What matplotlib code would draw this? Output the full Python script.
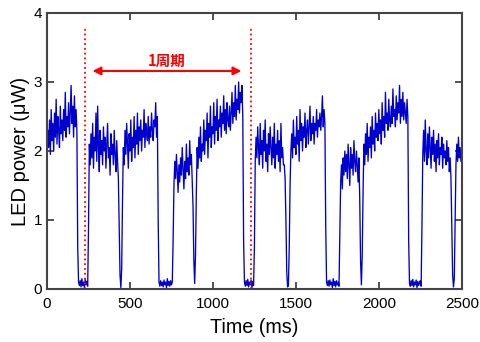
import numpy as np
import matplotlib
matplotlib.use('Agg')
import matplotlib.pyplot as plt

plt.rcParams['font.family'] = ['Liberation Sans', 'Noto Sans CJK JP', 'DejaVu Sans']

step_ms = 5
power_uw = [
    1.85, 2.30, 2.05, 2.45, 1.95, 2.60, 2.15, 2.40, 2.00, 2.55,
    2.20, 2.75, 2.10, 2.50, 2.30, 2.05, 2.65, 2.25, 2.45, 2.15,
    2.60, 2.30, 2.85, 2.20, 2.50, 2.35, 2.70, 2.25, 2.55, 2.95,
    2.40, 2.65, 2.20, 2.80, 2.35, 2.60, 2.30, 0.60, 0.10, 0.05,
    0.12, 0.03, 0.15, 0.05, 0.10, 0.02, 0.14, 0.06, 0.11, 0.04,
    0.90, 2.10, 1.80, 2.25, 1.90, 2.40, 1.75, 2.20, 2.00, 2.55,
    1.85, 2.65, 2.05, 1.70, 2.30, 1.95, 2.15, 1.80, 2.35, 2.00,
    2.20, 1.75, 2.10, 2.40, 1.90, 2.05, 1.65, 2.25, 1.95, 2.10,
    1.80, 2.30, 1.95, 1.70, 2.15, 1.85, 1.60, 0.90, 0.20, 0.02,
    0.30, 1.30, 2.05, 1.80, 2.30, 1.95, 2.40, 2.10, 1.75, 2.25,
    2.00, 2.45, 1.85, 2.20, 2.05, 2.50, 1.90, 2.30, 2.10, 2.55,
    1.95, 2.35, 2.15, 2.45, 2.00, 2.30, 2.20, 2.60, 2.05, 2.40,
    2.25, 2.15, 2.50, 2.10, 2.35, 2.20, 2.55, 2.30, 2.15, 2.45,
    2.35, 2.70, 2.20, 2.50, 1.00, 0.10, 0.04, 0.12, 0.05, 0.10,
    0.03, 0.13, 0.06, 0.10, 0.02, 0.15, 0.05, 0.11, 0.04, 0.12,
    0.06, 0.10, 0.70, 1.50, 1.85, 1.60, 1.95, 1.70, 1.40, 1.80,
    1.55, 1.90, 1.65, 2.05, 1.75, 1.45, 1.85, 1.60, 2.10, 1.70,
    1.90, 1.65, 2.15, 1.80, 1.95, 1.55, 1.20, 0.40, 0.08, 0.50,
    1.40, 2.05, 1.75, 2.20, 1.90, 2.35, 1.85, 2.10, 2.00, 2.45,
    1.95, 2.30, 2.15, 2.55, 1.90, 2.40, 2.20, 2.65, 2.05, 2.35,
    2.25, 2.70, 2.10, 2.50, 2.30, 2.75, 2.15, 2.45, 2.35, 2.65,
    2.20, 2.55, 2.40, 2.80, 2.30, 2.60, 2.25, 2.70, 2.45, 2.35,
    2.65, 2.30, 2.55, 2.85, 2.40, 2.70, 2.50, 2.95, 2.45, 2.75,
    2.60, 3.00, 2.55, 2.85, 2.70, 2.95, 2.50, 0.70, 0.10, 0.04,
    0.12, 0.05, 0.14, 0.03, 0.10, 0.06, 0.13, 0.02, 0.11, 0.05,
    0.60, 1.85, 2.20, 1.90, 2.35, 2.05, 1.80, 2.40, 1.95, 2.15,
    1.75, 2.30, 2.00, 2.45, 1.85, 2.10, 1.70, 2.25, 1.95, 2.35,
    2.05, 1.80, 2.20, 1.90, 2.40, 1.75, 2.10, 1.95, 2.30, 1.85,
    2.15, 1.70, 2.40, 1.90, 2.05, 1.80, 1.80, 1.60, 1.00, 0.25,
    0.03, 0.05, 0.60, 1.50, 2.00, 2.25, 1.90, 2.45, 2.05, 2.20,
    1.95, 2.50, 2.10, 2.30, 1.85, 2.60, 2.15, 2.40, 2.00, 2.35,
    2.20, 2.55, 2.05, 2.30, 2.45, 2.10, 2.35, 2.65, 2.15, 2.40,
    2.25, 2.50, 2.10, 2.40, 2.30, 2.60, 2.20, 2.45, 2.35, 2.55,
    2.30, 2.50, 2.80, 2.35, 2.60, 2.40, 0.90, 0.10, 0.05, 0.12,
    0.04, 0.13, 0.06, 0.10, 0.02, 0.15, 0.05, 0.11, 0.03, 0.12,
    0.06, 0.10, 0.04, 0.80, 1.55, 1.80, 1.45, 1.90, 1.65, 2.00,
    1.70, 1.95, 1.60, 2.10, 1.80, 1.50, 2.05, 1.75, 1.95, 1.65,
    2.15, 1.85, 1.70, 2.00, 1.80, 1.55, 1.90, 1.30, 0.40, 0.06,
    0.50, 1.40, 2.10, 1.80, 2.25, 1.95, 2.40, 1.85, 2.20, 2.05,
    2.35, 1.90, 2.50, 2.10, 2.30, 2.00, 2.55, 2.20, 2.40, 2.15,
    2.60, 2.25, 2.45, 2.10, 2.70, 2.30, 2.50, 2.20, 2.85, 2.40,
    2.55, 2.30, 2.75, 2.45, 2.35, 2.65, 2.40, 2.90, 2.50, 2.60,
    2.35, 2.80, 2.45, 2.70, 2.55, 2.95, 2.40, 2.75, 2.50, 2.85,
    2.45, 2.70, 2.55, 2.40, 2.75, 2.50, 0.70, 0.08, 0.04, 0.12,
    0.05, 0.14, 0.03, 0.10, 0.06, 0.13, 0.02, 0.11, 0.05, 0.09,
    0.12, 0.04, 0.90, 1.95, 2.30, 1.85, 2.45, 2.00, 1.80, 2.25,
    1.90, 2.35, 2.05, 1.75, 2.20, 1.95, 2.30, 1.85, 2.10, 1.70,
    2.15, 1.90, 2.25, 1.80, 2.05, 1.95, 2.20, 1.75, 2.10, 1.90,
    2.00, 1.80, 2.15, 1.85, 2.05, 1.70, 1.90, 1.60, 0.90, 0.20,
    0.03, 0.15, 1.00, 1.80, 2.10, 1.85, 2.20, 1.90, 2.05, 1.85,
    2.00,
]
time_ms = np.arange(len(power_uw)) * step_ms

# one period marker
period_start = 228
period_end = 1228
period_label = '1周期'

fig = plt.figure(figsize=(4.8, 3.42), dpi=100)
ax = fig.add_axes([0.098, 0.155, 0.864, 0.807])

ax.plot(time_ms, power_uw, color='#0000cc', lw=0.95)

for xv in (period_start, period_end):
    ax.plot([xv, xv], [0, 3.8], color='red', ls=':', lw=1.3)

ax.annotate('', xy=(274, 3.16), xytext=(1172, 3.16),
            arrowprops=dict(arrowstyle='<|-|>', color='red', lw=1.5,
                            mutation_scale=12, shrinkA=0, shrinkB=0))
ax.text(723, 3.30, period_label, color='red', fontsize=10.5, ha='center',
        va='center', weight='bold', family=['Noto Sans CJK JP', 'DejaVu Sans'])

ax.set_xlim(0, 2500)
ax.set_ylim(0, 4)
ax.set_xticks([0, 500, 1000, 1500, 2000, 2500])
ax.set_yticks([0, 1, 2, 3, 4])
ax.tick_params(direction='in', top=True, right=True, length=5,
               width=1.2, labelsize=11, color='#333333')
ax.tick_params(axis='x', pad=6)
for s in ax.spines.values():
    s.set_linewidth(1.5)
    s.set_color('#444444')

ax.set_xlabel('Time (ms)', fontsize=14.2, labelpad=5)
ax.set_ylabel('LED power (\u03bcW)', fontsize=14.5, labelpad=3)

fig.savefig('out.png', dpi=100)
